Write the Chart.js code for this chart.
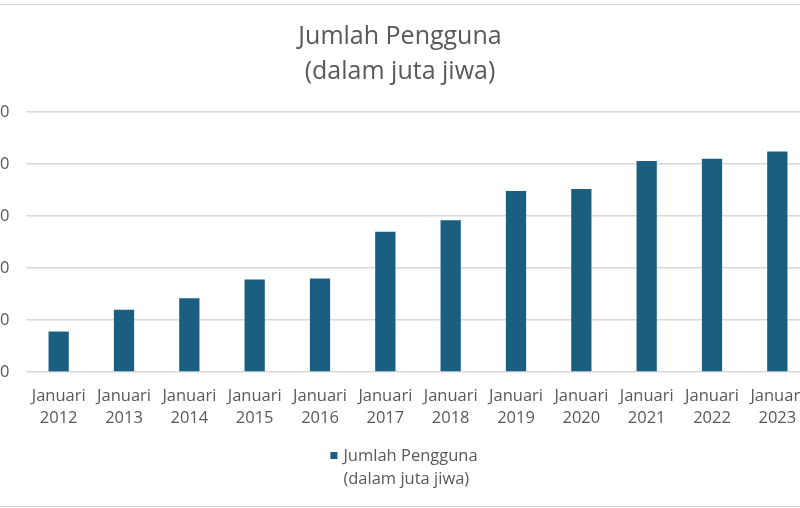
<!DOCTYPE html>
<html>
<head>
<meta charset="utf-8">
<script src="https://cdn.jsdelivr.net/npm/chart.js@4.4.1/dist/chart.umd.min.js"></script>
<style>
  html, body { margin: 0; padding: 0; background: #fff; overflow: hidden; width: 800px; height: 508px; }
  #wrap { position: absolute; left: -30px; top: 0; width: 860px; height: 508px; }
  #frame { position: absolute; left: 0; top: 4px; width: 800px; height: 501px;
           border-top: 1px solid #d4d4d4; border-bottom: 1px solid #d4d4d4; pointer-events: none; }
</style>
</head>
<body>
<div id="wrap"><canvas id="myChart" width="860" height="508"></canvas></div>
<div id="frame"></div>
<script>
const years = ['2012', '2013', '2014', '2015', '2016', '2017', '2018', '2019', '2020', '2021', '2022', '2023'];
const users = [39, 60, 71, 89, 90, 135, 146, 174, 176, 203, 205, 212];
const titleLines = ['Jumlah Pengguna', '(dalam juta jiwa)'];
const legendLines = ['Jumlah Pengguna', '(dalam juta jiwa)'];

const barColor = '#1A5E80';
const textColor = '#595959';
const font = "'Open Sans', 'Noto Sans', sans-serif";

// legend with two lines, drawn at the bottom
const legendTwoLines = {
  id: 'legendTwoLines',
  afterDraw(chart) {
    const c = chart.ctx;
    const cx = chart.width / 2;
    c.save();
    c.font = '16.5px ' + font;
    let w = 0;
    legendLines.forEach(function (t) { w = Math.max(w, c.measureText(t).width); });
    const total = 7 + 6 + w;
    const x0 = cx - total / 2 + 4;
    const y1 = chart.height - 52;
    c.fillStyle = barColor;
    c.fillRect(x0, y1 - 4, 7, 7);
    c.fillStyle = textColor;
    c.textBaseline = 'middle';
    c.textAlign = 'left';
    legendLines.forEach(function (t, i) {
      c.fillText(t, x0 + 13, y1 + i * 23);
    });
    c.restore();
  }
};

new Chart(document.getElementById('myChart'), {
  type: 'bar',
  data: {
    labels: years.map(function (y) { return ['Januari', y]; }),
    datasets: [{
      label: 'Jumlah Pengguna (dalam juta jiwa)',
      data: users,
      backgroundColor: barColor,
      barPercentage: 0.31,
      categoryPercentage: 1
    }]
  },
  options: {
    responsive: false,
    animation: false,
    layout: { padding: { left: 20, right: 20, top: 0, bottom: 66 } },
    plugins: {
      legend: { display: false },
      tooltip: { enabled: false },
      title: {
        display: true,
        text: titleLines,
        color: textColor,
        font: { family: font, size: 25, weight: 'normal', lineHeight: 1.4 },
        padding: { top: 19, bottom: 23 }
      }
    },
    scales: {
      x: {
        grid: { display: false, drawTicks: false },
        border: { display: false },
        ticks: {
          color: textColor,
          font: { family: font, size: 16.5, lineHeight: 1.33 },
          padding: 13,
          maxRotation: 0,
          autoSkip: false
        }
      },
      y: {
        min: 0,
        max: 250,
        afterFit: function (s) { s.width = 36; },
        grid: { color: '#d9d9d9', lineWidth: 1.5, drawTicks: false },
        border: { display: false },
        ticks: {
          stepSize: 50,
          color: textColor,
          font: { family: font, size: 16.5 },
          padding: 16.5
        }
      }
    }
  },
  plugins: [legendTwoLines]
});
</script>
</body>
</html>
